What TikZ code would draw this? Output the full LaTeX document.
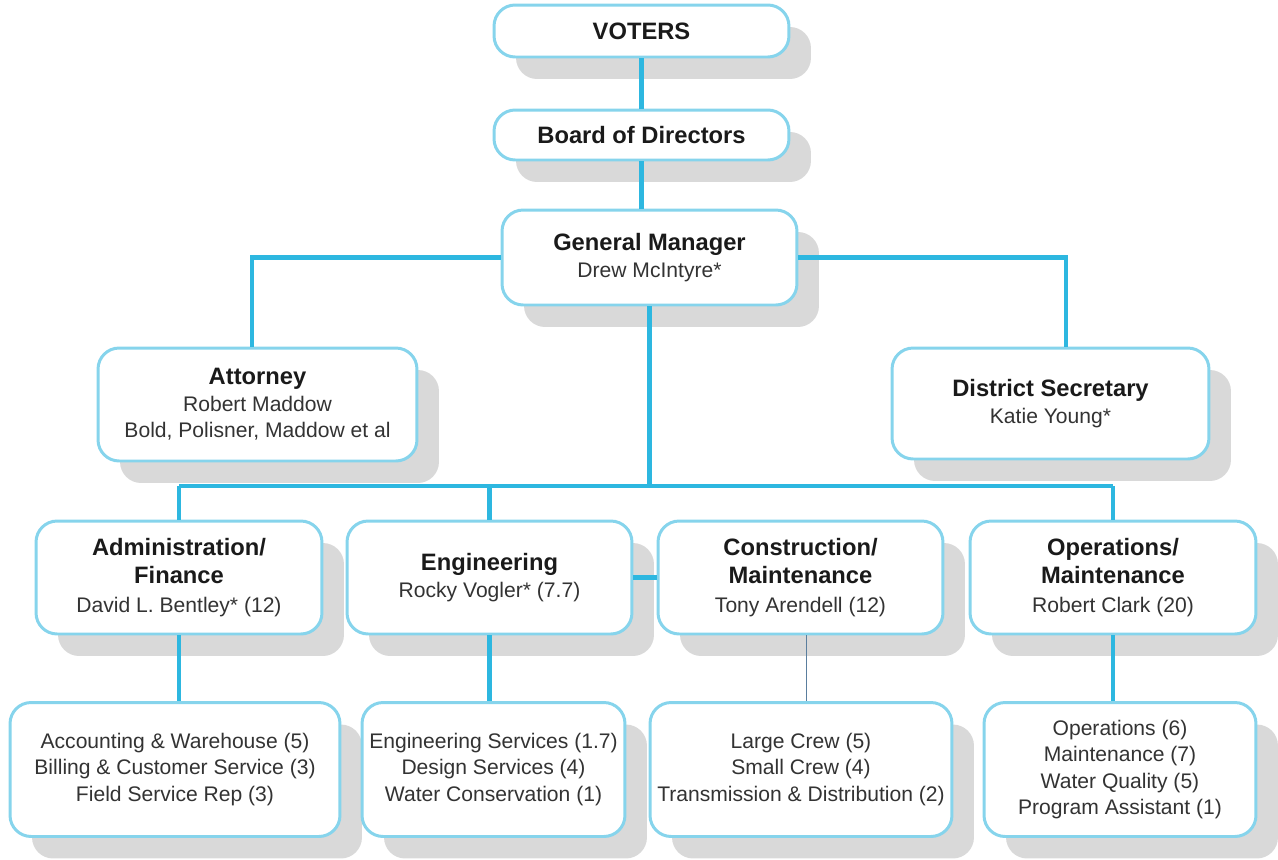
\documentclass[tikz,border=0pt]{standalone}
\usepackage{fontspec}
\setmainfont{Liberation Sans}
\usetikzlibrary{shadows}

\definecolor{rimblue}{HTML}{86D4EC}
\definecolor{linkblue}{HTML}{2DB7E0}
\definecolor{thinlink}{HTML}{5A7E9E}
\definecolor{shadegray}{HTML}{D9D9D9}
\definecolor{headtext}{HTML}{1A1A1A}
\definecolor{bodytext}{HTML}{333333}

\newcommand{\hd}{\fontsize{13.5}{16}\bfseries\selectfont\color{headtext}}

\begin{document}
\begin{tikzpicture}[x=0.02cm,y=-0.02cm,
  unit/.style={rectangle,draw=rimblue,line width=1.7pt,fill=white,rounded corners=12pt,
    align=center,text=bodytext,font=\fontsize{12}{15}\selectfont,
    drop shadow={shadow xshift=0.44cm,shadow yshift=-0.44cm,fill=shadegray,opacity=1}},
  link/.style={draw=linkblue,line width=2.3pt},
  thin link/.style={draw=thinlink,line width=0.6pt}]
\useasboundingbox (0,0) rectangle (1278,859);

\node [unit,minimum width=5.9cm,minimum height=1.04cm] (voters) at (641.5,31) {\hd VOTERS};
\node [unit,minimum width=5.9cm,minimum height=1cm] (board) at (641.5,135) {\hd Board of Directors};
\node [unit,minimum width=5.9cm,minimum height=1.9cm] (gm) at (649.5,257.5)
  {\hd General Manager\\Drew McIntyre*};
\node [unit,minimum width=6.38cm,minimum height=2.26cm] (atty) at (257.5,404.5)
  {\hd Attorney\\Robert Maddow\\Bold, Polisner, Maddow et al};
\node [unit,minimum width=6.34cm,minimum height=2.22cm] (secr) at (1050.5,403.5)
  {\hd District Secretary\\Katie Young*};

\node [unit,minimum width=5.72cm,minimum height=2.26cm] (admin) at (179,577.5)
  {\hd Administration/\\[1pt]\hd Finance\\[1pt]David L. Bentley* (12)};
\node [unit,minimum width=5.7cm,minimum height=2.26cm] (eng) at (489.5,577.5)
  {\hd Engineering\\Rocky Vogler* (7.7)};
\node [unit,minimum width=5.7cm,minimum height=2.26cm] (constr) at (800.5,577.5)
  {\hd Construction/\\[1pt]\hd Maintenance\\[1pt]Tony Arendell (12)};
\node [unit,minimum width=5.72cm,minimum height=2.26cm] (oper) at (1113,577.5)
  {\hd Operations/\\[1pt]\hd Maintenance\\[1pt]Robert Clark (20)};

\node [unit,minimum width=6.6cm,minimum height=2.68cm] (acct) at (175,769.5)
  {Accounting \& Warehouse (5)\\Billing \& Customer Service (3)\\Field Service Rep (3)};
\node [unit,minimum width=5.26cm,minimum height=2.68cm] (engsvc) at (493.5,769.5)
  {Engineering Services (1.7)\\Design Services (4)\\Water Conservation (1)};
\node [unit,minimum width=6.04cm,minimum height=2.68cm] (crews) at (801,769.5)
  {Large Crew (5)\\Small Crew (4)\\Transmission \& Distribution (2)};
\node [unit,minimum width=5.44cm,minimum height=2.68cm] (opsvc) at (1120,769.5)
  {Operations (6)\\Maintenance (7)\\Water Quality (5)\\Program Assistant (1)};

\coordinate (bus) at (650,486);
\coordinate (attyline) at (252,0);
\coordinate (secrline) at (1066,0);

% top of the chart
\draw [link] (voters) -- (board);
\draw [link] (board) -- (board.south |- gm.north);
\draw [link] (gm.west) -- (attyline |- gm.west) -- (attyline |- atty.north);
\draw [link] (gm.east) -- (secrline |- gm.east) -- (secrline |- secr.north);

% departments
\draw [link] (gm.south) -- (gm.south |- bus);
\draw [link] (admin.north |- bus) -- (oper.north |- bus);
\draw [link] (admin.north |- bus) -- (admin.north);
\draw [link] (eng.north |- bus) -- (eng.north);
\draw [link] (oper.north |- bus) -- (oper.north);
\draw [link] (eng.east) -- (constr.west);

% sections
\draw [link] (admin.south) -- (admin.south |- acct.north);
\draw [link] (eng.south) -- (eng.south |- engsvc.north);
\draw [thin link] ([xshift=0.12cm]constr.south) -- ([xshift=0.12cm]constr.south |- crews.north);
\draw [link] (oper.south) -- (oper.south |- opsvc.north);
\end{tikzpicture}
\end{document}
